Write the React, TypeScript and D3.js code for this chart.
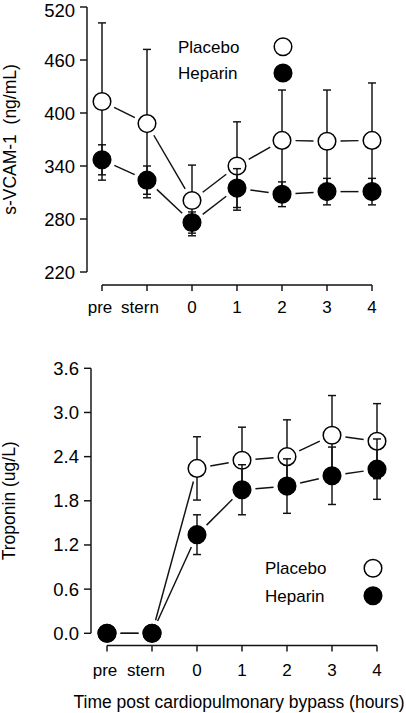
import React from 'react';
import * as d3 from 'd3';

const categories = ['pre', 'stern', '0', '1', '2', '3', '4'];

const vcamTicks = [220, 280, 340, 400, 460, 520];
const vcamPlacebo = [413, 388, 301, 340, 369, 368, 369];
const vcamPlaceboErr = [89, 84, 40, 50, 57, 58, 65];
const vcamHeparin = [347, 324, 276, 315, 308, 311, 311];
const vcamHeparinErr = [17, 16, 12, 22, 14, 15, 15];

const tropTicks = [0, 0.6, 1.2, 1.8, 2.4, 3.0, 3.6];
const tropPlacebo = [0, 0, 2.24, 2.35, 2.4, 2.69, 2.61];
const tropPlaceboErr = [0, 0, 0.43, 0.45, 0.5, 0.54, 0.51];
const tropHeparin = [0, 0, 1.34, 1.95, 2.0, 2.14, 2.23];
const tropHeparinErr = [0, 0, 0.27, 0.34, 0.37, 0.39, 0.41];

const FONT = '"Liberation Sans", Arial, Helvetica, sans-serif';
const INK = '#111';
const R = 8.8;
const GAP = 13.5;
const SW = 1.45;

type PanelProps = {
  yDomain: [number, number];
  yRange: [number, number];
  xRange: [number, number];
  axisX: number;
  axisY: number;
  ticks: number[];
  tickFmt: (v: number) => string;
  placebo: number[];
  placeboErr: number[];
  heparin: number[];
  heparinErr: number[];
  yTitle: string;
  yTitleX: number;
  legendTextX: number;
  legendCircleX: number;
  legendY: [number, number];
  labelY: number;
  sternDx: number;
};

function Series({ x, y, vals, errs, filled }: any) {
  const pts = categories.map((c, i) => [x(c) as number, y(vals[i]) as number]);
  const segs: any[] = [];
  for (let i = 0; i < pts.length - 1; i++) {
    const [x1, y1] = pts[i];
    const [x2, y2] = pts[i + 1];
    const dx = x2 - x1, dy = y2 - y1;
    const len = Math.sqrt(dx * dx + dy * dy);
    if (len <= 2 * GAP) continue;
    const ux = dx / len, uy = dy / len;
    segs.push(
      <line key={'s' + i} x1={x1 + ux * GAP} y1={y1 + uy * GAP} x2={x2 - ux * GAP} y2={y2 - uy * GAP}
        stroke={INK} strokeWidth={SW} />
    );
  }
  const bars = categories.map((c, i) => {
    if (!errs[i]) return null;
    const cx = x(c) as number;
    const yt = y(vals[i] + errs[i]);
    const yb = y(vals[i] - errs[i]);
    return (
      <g key={'e' + i} stroke={INK} strokeWidth={SW}>
        <line x1={cx} x2={cx} y1={yt} y2={yb} />
        <line x1={cx - 4} x2={cx + 4} y1={yt} y2={yt} />
        <line x1={cx - 4} x2={cx + 4} y1={yb} y2={yb} />
      </g>
    );
  });
  const dots = pts.map(([cx, cy], i) => (
    <circle key={'c' + i} cx={cx} cy={cy} r={R} fill={filled ? '#000' : '#fff'} stroke="#000" strokeWidth={1.5} />
  ));
  return <g>{segs}{bars}{dots}</g>;
}

function Panel(p: PanelProps) {
  const y = d3.scaleLinear().domain(p.yDomain).range(p.yRange);
  const x = d3.scalePoint<string>().domain(categories).range(p.xRange);
  const yTop = y(p.yDomain[1]);
  const yBot = y(p.yDomain[0]);
  return (
    <g fontFamily={FONT} fill="#000">
      <line x1={p.axisX} x2={p.axisX} y1={yTop} y2={yBot} stroke={INK} strokeWidth={SW} />
      {p.ticks.map((t) => (
        <g key={t}>
          <line x1={p.axisX - 7} x2={p.axisX} y1={y(t)} y2={y(t)} stroke={INK} strokeWidth={SW} />
          <text x={p.axisX - 12} y={Math.max(y(t) + 6.5, 16.5)} textAnchor="end" fontSize={18.5}>{p.tickFmt(t)}</text>
        </g>
      ))}
      <text transform={`translate(${p.yTitleX},${(yTop + yBot) / 2}) rotate(-90)`} textAnchor="middle"
        dy="0.35em" fontSize={17.5} style={{ whiteSpace: 'pre' }}>{p.yTitle}</text>
      <line x1={p.xRange[0]} x2={p.xRange[1]} y1={p.axisY} y2={p.axisY} stroke={INK} strokeWidth={SW} />
      {categories.map((c, i) => (
        <g key={c}>
          <line x1={x(c)} x2={x(c)} y1={p.axisY} y2={p.axisY + 6} stroke={INK} strokeWidth={SW} />
          <text x={(x(c) as number) + (i === 0 ? -2 : i === 1 ? p.sternDx : 0)} y={p.labelY} textAnchor="middle" fontSize={17}>{c}</text>
        </g>
      ))}
      <Series x={x} y={y} vals={p.placebo} errs={p.placeboErr} filled={false} />
      <Series x={x} y={y} vals={p.heparin} errs={p.heparinErr} filled={true} />
      <text x={p.legendTextX} y={p.legendY[0] + 6} fontSize={17}>Placebo</text>
      <circle cx={p.legendCircleX} cy={p.legendY[0]} r={R} fill="#fff" stroke="#000" strokeWidth={1.5} />
      <text x={p.legendTextX} y={p.legendY[1] + 6} fontSize={17}>Heparin</text>
      <circle cx={p.legendCircleX} cy={p.legendY[1]} r={R} fill="#000" stroke="#000" strokeWidth={1.5} />
    </g>
  );
}

export default function App() {
  return (
    <svg width={406} height={713} viewBox="0 0 406 713"
      style={{ position: 'absolute', left: 0, top: 0, background: '#fff' }}>
      <rect width={406} height={713} fill="#fff" />
      <Panel
        yDomain={[220, 520]} yRange={[272, 7]} xRange={[102, 372]} axisX={87} axisY={285}
        ticks={vcamTicks} tickFmt={(v) => String(v)}
        placebo={vcamPlacebo} placeboErr={vcamPlaceboErr} heparin={vcamHeparin} heparinErr={vcamHeparinErr}
        yTitle={'s-VCAM-1  (ng/mL)'} yTitleX={10}
        legendTextX={178} legendCircleX={283} legendY={[46.7, 73]} labelY={313} sternDx={-7}
      />
      <Panel
        yDomain={[0, 3.6]} yRange={[633.3, 368.3]} xRange={[107, 377]} axisX={91} axisY={645.5}
        ticks={tropTicks} tickFmt={(v) => d3.format('.1f')(v)}
        placebo={tropPlacebo} placeboErr={tropPlaceboErr} heparin={tropHeparin} heparinErr={tropHeparinErr}
        yTitle={'Troponin (ug/L)'} yTitleX={9}
        legendTextX={265} legendCircleX={373} legendY={[568.3, 595.7]} labelY={675.5} sternDx={-6}
      />
      <text x={239} y={708} textAnchor="middle" fontFamily={FONT} fontSize={17.5} fill="#000">
        Time post cardiopulmonary bypass (hours)
      </text>
    </svg>
  );
}
